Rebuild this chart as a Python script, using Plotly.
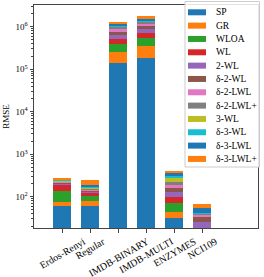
import plotly.graph_objects as go

categories = ["Erdos-Renyi", "Regular", "IMDB-BINARY", "IMDB-MULTI", "ENZYMES", "NCI109"]
series_names = ["SP", "GR", "WLOA", "WL", "2-WL", "δ-2-WL", "δ-2-LWL", "δ-2-LWL+",
                "3-WL", "δ-3-WL", "δ-3-LWL", "δ-3-LWL+"]

SP       = [61, 61, 137700, 186600, 31, None]
GR       = [15, 18, 120000, 170400, 13.4, None]
WLOA     = [60, 25, 134000, 176000, 28, None]
WL       = [63, 25, 114000, 167000, 26, None]
WL2      = [10, 7.1, 132000, 169000, 31, 26]
D2WL     = [8, 7.5, 112000, 170000, 29, 8.2]
D2LWL    = [8, 7.9, 147000, 163000, 30, 3.9]
D2LWLP   = [8, 8.4, 103000, 89000, 30, 3.2]
WL3      = [9, 8.8, 33000, 71000, 53, None]
D3WL     = [9, 9.3, 34000, 76000, 36, 1.2]
D3LWL    = [9, 9.8, 71000, 104000, 48, 12.3]
D3LWLP   = [11, 59, 132000, 244000, 54, 12.5]

series_values = [SP, GR, WLOA, WL, WL2, D2WL, D2LWL, D2LWLP, WL3, D3WL, D3LWL, D3LWLP]
colors = ["#1f77b4", "#ff7f0e", "#2ca02c", "#d62728", "#9467bd", "#8c564b",
          "#e377c2", "#7f7f7f", "#bcbd22", "#17becf", "#1f77b4", "#ff7f0e"]

y_tick_vals = [1e2, 1e3, 1e4, 1e5, 1e6]
y_tick_text = ["10<sup>2</sup>", "10<sup>3</sup>", "10<sup>4</sup>", "10<sup>5</sup>", "10<sup>6</sup>"]

FONT = "Liberation Serif, Times New Roman, serif"

fig = go.Figure()
for name, vals, col in zip(series_names, series_values, colors):
    fig.add_trace(go.Bar(x=categories, y=vals, name=name, marker_color=col,
                         marker_line_width=0, width=0.62, showlegend=False))

W, H = 264, 277
L, R, T, B = 34, 6, 5, 49
pw, ph = W - L - R, H - T - B

def px(x):
    return (x - L) / pw

def py(y):
    return (H - B - y) / ph

# Manual legend (matplotlib style)
shapes = [dict(type="rect", xref="paper", yref="paper",
               x0=px(185), x1=px(259.5), y0=py(167), y1=py(1.5),
               line=dict(color="#cccccc", width=1), fillcolor="rgba(255,255,255,0.85)",
               layer="above")]
annotations = []
for i, (name, col) in enumerate(zip(series_names, colors)):
    cy = 12.3 + 13.33 * i
    shapes.append(dict(type="rect", xref="paper", yref="paper",
                       x0=px(188), x1=px(206), y0=py(cy + 3), y1=py(cy - 3),
                       line=dict(width=0), fillcolor=col, layer="above"))
    annotations.append(dict(xref="paper", yref="paper", x=px(214), y=py(cy),
                            text=name, showarrow=False, xanchor="left", yanchor="middle",
                            font=dict(family=FONT, size=9.5, color="black")))

# Rotated category labels centred on ticks, top-aligned (matplotlib rotation=30)
for c in categories:
    annotations.append(dict(xref="x", yref="paper", x=c, y=py(233), text=c,
                            textangle=-30, showarrow=False, xanchor="center",
                            yanchor="top", font=dict(family=FONT, size=10, color="black")))

fig.update_layout(
    barmode="stack",
    width=W, height=H,
    margin=dict(l=L, r=R, t=T, b=B, pad=0, autoexpand=False),
    plot_bgcolor="white", paper_bgcolor="white",
    font=dict(family=FONT, size=10, color="black"),
    shapes=shapes, annotations=annotations,
    xaxis=dict(type="category", range=[-1, 7], showline=True, mirror=True,
               linecolor="#444", linewidth=1, ticks="outside", ticklen=3.5,
               tickcolor="#444", showticklabels=False, showgrid=False, automargin=False),
    yaxis=dict(type="log", range=[1.264, 6.511], showline=True, mirror=True,
               linecolor="#444", linewidth=1, ticks="outside", ticklen=3.5,
               tickcolor="#444", tickvals=y_tick_vals, ticktext=y_tick_text,
               showgrid=False, tickfont=dict(family=FONT, size=9), automargin=False,
               minor=dict(ticks="outside", ticklen=2, tickcolor="#444", dtick="D1", showgrid=False),
               title=dict(text="RMSE", font=dict(family=FONT, size=9), standoff=4)),
)

fig.write_html("out.html", config={"displayModeBar": False},
               post_script="document.body.style.margin='0';document.body.style.overflow='hidden';")
